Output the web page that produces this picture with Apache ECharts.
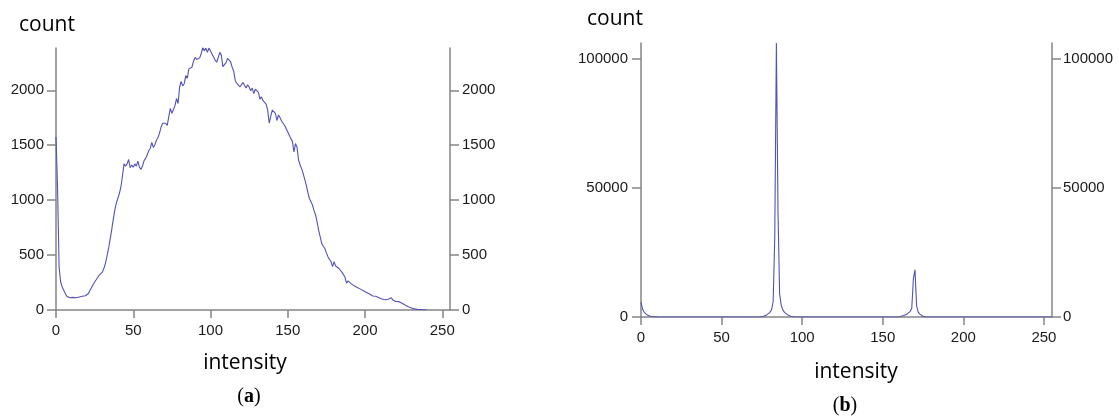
<!DOCTYPE html>
<html>
<head>
<meta charset="utf-8">
<script src="https://cdn.jsdelivr.net/npm/echarts@6/dist/echarts.min.js"></script>
<style>
  html, body { margin: 0; padding: 0; background: #fff; }
  #container { width: 1119px; height: 419px; }
</style>
</head>
<body>
<div id="container"></div>
<script>
// (a) histogram, one count per intensity 0..240
var countsA = [
    1575, 1120, 390, 255, 210, 180, 150, 125, 115, 112,
    110, 115, 108, 112, 105, 118, 115, 125, 128, 130,
    135, 150, 180, 205, 230, 255, 275, 290, 318, 325,
    345, 380, 425, 490, 560, 640, 725, 820, 905, 970,
    1015, 1060, 1120, 1220, 1330, 1310, 1330, 1370, 1295, 1320,
    1300, 1330, 1310, 1355, 1300, 1280, 1310, 1360, 1380, 1410,
    1450, 1470, 1525, 1480, 1505, 1545, 1570, 1610, 1665, 1700,
    1715, 1700, 1680, 1760, 1835, 1790, 1805, 1860, 1925, 1880,
    2030, 2080, 2040, 2060, 2135, 2110, 2195, 2180, 2210, 2265,
    2300, 2280, 2270, 2295, 2335, 2390, 2360, 2385, 2345, 2385,
    2375, 2330, 2320, 2275, 2255, 2300, 2345, 2320, 2215, 2200,
    2250, 2290, 2295, 2260, 2210, 2175, 2090, 2065, 2070, 2030,
    2015, 2070, 2065, 2020, 2050, 2030, 1995, 2020, 1970, 2010,
    2015, 1980, 1920, 1940, 1905, 1895, 1875, 1820, 1700, 1765,
    1820, 1810, 1790, 1725, 1775, 1750, 1720, 1700, 1680, 1650,
    1620, 1590, 1560, 1535, 1440, 1515, 1480, 1365, 1320, 1285,
    1240, 1190, 1135, 1070, 1015, 985, 955, 905, 865, 800,
    725, 665, 605, 580, 560, 520, 485, 460, 440, 395,
    440, 400, 395, 380, 365, 345, 335, 300, 245, 265,
    258, 240, 228, 220, 212, 205, 197, 190, 182, 175,
    167, 160, 152, 145, 136, 128, 121, 125, 120, 112,
    106, 100, 97, 94, 91, 98, 106, 112, 92, 85,
    77, 76, 76, 68, 61, 52, 45, 38, 30, 24,
    18, 13, 10, 8, 6, 5, 4, 3, 2, 1,
    0
];

// (b) histogram, intensities and counts where the curve is not flat at zero
var intensitiesB = [
    0, 1, 2, 3, 4, 5, 6, 7, 8, 9, 10, 11, 12,
    74, 75, 76, 77, 78, 79, 80, 81, 82, 83, 84, 85, 86, 87, 88, 89, 90, 91, 92, 93, 94, 95,
    159, 160, 161, 162, 163, 164, 165, 166, 167, 168, 169, 170, 171, 172, 173, 174, 175, 176, 177,
    255
];
var countsB = [
    5800, 3000, 1800, 1100, 700, 450, 300, 200, 120, 70, 40, 15, 0,
    0, 150, 300, 500, 800, 1200, 1800, 2800, 6000, 31000, 106000, 41000, 9000, 4500, 2800, 1800, 1200, 800, 500, 300, 120, 0,
    0, 100, 200, 350, 550, 800, 1100, 1500, 2200, 3400, 14900, 18300, 4200, 1900, 1100, 600, 300, 100, 0,
    0
];

var xTicks = [0, 50, 100, 150, 200, 250];
var yTicksA = [0, 500, 1000, 1500, 2000];
var yTicksB = [0, 50000, 100000];

var axisColor = '#858585';
var labelColor = '#1a1a1a';
var lineColor = '#5252b8';

function plain(v) {
    return String(v);
}

function xAxisFor(gridIndex) {
    return {
        type: 'value',
        gridIndex: gridIndex,
        min: 0,
        max: 255,
        axisLine: { show: true, lineStyle: { color: axisColor, width: 1.5 } },
        axisTick: { show: true, length: 8, customValues: xTicks, lineStyle: { color: axisColor, width: 1.5 } },
        axisLabel: { customValues: xTicks, formatter: plain, margin: 13, color: labelColor, fontSize: 15, fontFamily: 'Liberation Sans' },
        splitLine: { show: false }
    };
}

function yAxisFor(gridIndex, pos, max, ticks, margin) {
    return {
        type: 'value',
        gridIndex: gridIndex,
        position: pos,
        min: 0,
        max: max,
        axisLine: { show: true, onZero: false, lineStyle: { color: axisColor, width: 1.5 } },
        axisTick: { show: true, length: 9, customValues: ticks, lineStyle: { color: axisColor, width: 1.5 } },
        axisLabel: { customValues: ticks, formatter: plain, margin: margin, color: labelColor, fontSize: 15, fontFamily: 'Liberation Sans' },
        splitLine: { show: false }
    };
}

function caption(text, x, y) {
    return {
        type: 'text',
        x: x,
        y: y,
        style: { text: text, font: '21px "Open Sans"', fill: '#000', align: 'center', verticalAlign: 'middle' }
    };
}

function panelTag(letter, x, y) {
    return {
        type: 'text',
        x: x,
        y: y,
        style: {
            text: '{p|(}{b|' + letter + '}{p|)}',
            align: 'center',
            verticalAlign: 'middle',
            rich: {
                p: { font: '20px "Liberation Serif"', fill: '#000' },
                b: { font: 'bold 20px "Liberation Serif"', fill: '#000' }
            }
        }
    };
}

var myChart = echarts.init(document.getElementById('container'));
var option = {
    animation: false,
    backgroundColor: '#fff',
    grid: [
        { left: 56, right: 669, top: 48, bottom: 109, outerBoundsMode: 'none' },
        { left: 641, right: 67, top: 43, bottom: 102, outerBoundsMode: 'none' }
    ],
    xAxis: [xAxisFor(0), xAxisFor(1)],
    yAxis: [
        yAxisFor(0, 'left', 2385, yTicksA, 12),
        yAxisFor(0, 'right', 2385, yTicksA, 12),
        yAxisFor(1, 'left', 106000, yTicksB, 13),
        yAxisFor(1, 'right', 106000, yTicksB, 11)
    ],
    series: [
        {
            type: 'line',
            xAxisIndex: 0,
            yAxisIndex: 0,
            showSymbol: false,
            lineStyle: { color: lineColor, width: 1.1 },
            data: countsA.map(function (c, i) { return [i, c]; })
        },
        {
            type: 'line',
            xAxisIndex: 1,
            yAxisIndex: 2,
            showSymbol: false,
            lineStyle: { color: lineColor, width: 1.1 },
            data: intensitiesB.map(function (v, i) { return [v, countsB[i]]; })
        }
    ],
    graphic: [
        caption('count', 47, 25),
        caption('intensity', 245, 363),
        panelTag('a', 249, 397),
        caption('count', 615, 19),
        caption('intensity', 856, 372),
        panelTag('b', 845, 406)
    ]
};
myChart.setOption(option);
</script>
</body>
</html>
